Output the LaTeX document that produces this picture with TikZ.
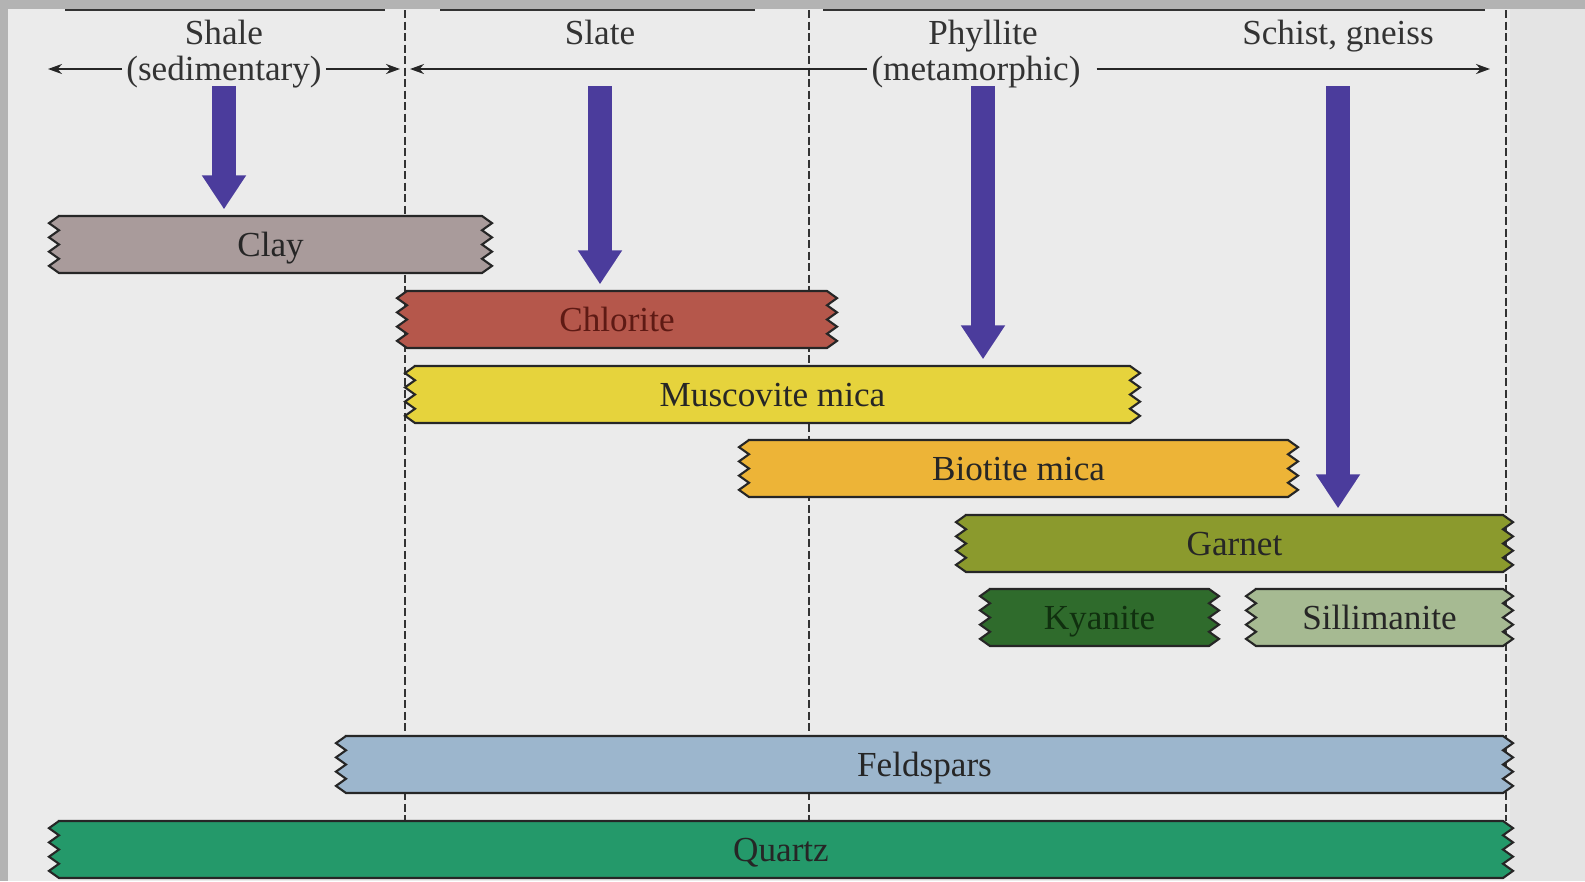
\documentclass[tikz,border=0pt]{standalone}
\usepackage{fontspec}
\setmainfont{Liberation Serif}
\usetikzlibrary{arrows.meta}

\definecolor{frame}{HTML}{B3B3B3}
\definecolor{panel}{HTML}{EBEBEB}
\definecolor{margin}{HTML}{E4E4E4}
\definecolor{stagepurple}{HTML}{4B3C9C}
\definecolor{clayfill}{HTML}{A99B9B}
\definecolor{chloritefill}{HTML}{B5574B}
\definecolor{chloritetext}{HTML}{5E1A14}
\definecolor{muscovitefill}{HTML}{E6D33C}
\definecolor{biotitefill}{HTML}{EDB437}
\definecolor{garnetfill}{HTML}{8B9A2D}
\definecolor{kyanitefill}{HTML}{2F6B2C}
\definecolor{kyanitetext}{HTML}{10300F}
\definecolor{sillimanitefill}{HTML}{A6BA92}
\definecolor{feldsparfill}{HTML}{9CB6CD}
\definecolor{quartzfill}{HTML}{24996A}

% one mineral band: name, left, right, top, fill, label
\newcommand{\mineral}[6]{%
  \filldraw[bar, fill=#5] ({#2+10},#4) -- ({#3-10},#4)
    \foreach \k in {1,...,4} { -- ++(10,7.125) -- ++(-10,7.125) }
    -- ({#2+10},{#4+57})
    \foreach \k in {1,...,4} { -- ++(-10,-7.125) -- ++(10,-7.125) }
    -- cycle;
  \node[barlabel, minimum width={(#3-#2)*0.01cm}] (#1) at ({(#2+#3)/2},{#4+28.5}) {#6};
}

\begin{document}
\begin{tikzpicture}[x=0.01cm, y=-0.01cm,
  stage/.style={inner sep=1pt, text=black!80, text height=1.7ex, text depth=0.2ex,
    font=\fontsize{10}{12}\selectfont},
  bar/.style={draw=black!85, line width=0.6pt},
  barlabel/.style={inner sep=0pt, minimum height=0.57cm, text=black!85,
    text height=1.7ex, text depth=0.2ex, font=\fontsize{10}{12}\selectfont},
  divider/.style={draw=black!80, line width=0.6pt, dash pattern=on 0.8mm off 0.35mm},
  stagerange/.style={draw=black!85, line width=0.6pt, -{Stealth[length=1.4mm,width=1mm]}},
  gradearrow/.style={draw=stagepurple, line width=2.4mm,
    -{Triangle[width=4.2mm,length=3.4mm]}, shorten >=0.6mm}
]
\useasboundingbox (0,0) rectangle (1585,881);

% background
\fill[frame] (0,0) rectangle (1585,881);
\fill[panel] (8,9) rectangle (1510,881);
\fill[margin] (1510,9) rectangle (1585,881);
\draw[black!80, line width=0.8pt] (65,10) -- (385,10) (440,10) -- (755,10) (823,10) -- (1485,10);

% grade boundaries
\foreach \x in {405,809,1506}
  \draw[divider] (\x,10) -- (\x,821);

% rock names
\node[stage] (shale) at (224,32) {Shale};
\node[stage] (sed) at (224,68) {(sedimentary)};
\node[stage] (slate) at (600,32) {Slate};
\node[stage] (phyllite) at (983,32) {Phyllite};
\node[stage] (meta) at (976,68) {(metamorphic)};
\node[stage] (schist) at (1338,32) {Schist, gneiss};

\coordinate (sedL) at (48,69);
\coordinate (sedR) at (400,69);
\coordinate (metaL) at (410,69);
\coordinate (metaR) at (1490,69);
\coordinate (arrowtop) at (0,86);

\draw[stagerange] (sed.west |- sedL) -- (sedL);
\draw[stagerange] (sed.east |- sedR) -- (sedR);
\draw[stagerange] (meta.west |- metaL) -- (metaL);
\draw[stagerange, shorten <=1.2mm] (meta.east |- metaR) -- (metaR);

% mineral bands
\mineral{clay}{49}{492}{216}{clayfill}{Clay}
\mineral{chlorite}{397}{837}{291}{chloritefill}{\textcolor{chloritetext}{Chlorite}}
\mineral{muscovite}{405}{1140}{366}{muscovitefill}{Muscovite mica}
\mineral{biotite}{739}{1298}{440}{biotitefill}{Biotite mica}
\mineral{garnet}{956}{1513}{515}{garnetfill}{Garnet}
\mineral{kyanite}{980}{1219}{589}{kyanitefill}{\textcolor{kyanitetext}{Kyanite}}
\mineral{sillimanite}{1246}{1513}{589}{sillimanitefill}{Sillimanite}
\mineral{feldspars}{336}{1513}{736}{feldsparfill}{Feldspars}
\mineral{quartz}{49}{1513}{821}{quartzfill}{Quartz}

% first appearance of each mineral
\draw[gradearrow] (shale |- arrowtop) -- (clay.north -| shale);
\draw[gradearrow] (slate |- arrowtop) -- (chlorite.north -| slate);
\draw[gradearrow] (phyllite |- arrowtop) -- (muscovite.north -| phyllite);
\draw[gradearrow] (schist |- arrowtop) -- (garnet.north -| schist);
\end{tikzpicture}
\end{document}
